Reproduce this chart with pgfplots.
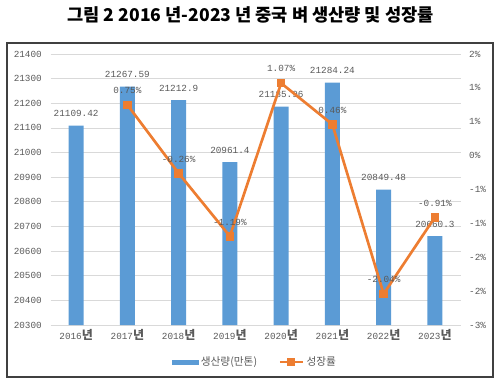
\documentclass[border=0pt]{standalone}
\usepackage{fontspec}
\usepackage{pgfplots}
\pgfplotsset{compat=1.18}
\setmainfont{Liberation Mono}
\newfontfamily\kr{Noto Sans CJK KR}
\definecolor{barblue}{RGB}{91,155,213}
\definecolor{lineorange}{RGB}{237,125,49}
\definecolor{txtgray}{RGB}{89,89,89}
\definecolor{gridgray}{RGB}{217,217,217}
\newcommand{\yr}[1]{#1{\kr\bfseries\fontsize{9}{10}\selectfont 년}}
\begin{document}
\begin{tikzpicture}
\useasboundingbox (0,0) rectangle (373.5pt,289.5pt);
\draw[line width=1.1pt, draw=black!75] (5.25pt,6.75pt) rectangle (369.75pt,257.25pt);
\node[font=\kr\bfseries\fontsize{13.2}{15}\selectfont] at (188pt,278.25pt) {그림 2 2016 년-2023 년 중국 벼 생산량 및 성장률};
\begin{axis}[
  at={(37.875pt,45.75pt)}, anchor=south west,
  scale only axis, width=307.5pt, height=203.25pt,
  xmin=-0.5, xmax=7.5, ymin=20300, ymax=21400,
  ytick={20300,20400,20500,20600,20700,20800,20900,21000,21100,21200,21300,21400},
  scaled y ticks=false,
  xtick={0,...,7},
  xticklabels={\yr{2016},\yr{2017},\yr{2018},\yr{2019},\yr{2020},\yr{2021},\yr{2022},\yr{2023}},
  ybar, bar width=11.25pt,
  axis line style={draw=none}, major tick length=0pt,
  ymajorgrids, grid style={gridgray, line width=0.6pt},
  tick label style={font=\fontsize{7}{8}\selectfont, text=txtgray},
  /pgf/number format/assume math mode=true,
  /pgf/number format/1000 sep={},
  yticklabel style={xshift=-3pt, /pgf/number format/fixed, /pgf/number format/precision=0},
  nodes near coords, point meta=explicit symbolic,
  every node near coord/.style={font=\fontsize{7}{8}\selectfont, text=txtgray, yshift=3pt},
]
\addplot[fill=barblue, draw=none] coordinates {
 (0,21109.42)[21109.42] (1,21267.59)[21267.59] (2,21212.9)[21212.9] (3,20961.4)[20961.4]
 (4,21185.96)[21185.96] (5,21284.24)[21284.24] (6,20849.48)[20849.48] (7,20660.3)[20660.3]};
\end{axis}
\begin{axis}[
  at={(37.875pt,45.75pt)}, anchor=south west,
  scale only axis, width=307.5pt, height=203.25pt,
  xmin=-0.5, xmax=7.5, ymin=-2.5, ymax=1.5,
  axis y line*=right, axis x line=none,
  axis line style={draw=none}, major tick length=0pt,
  ytick={-2.5,-2,-1.5,-1,-0.5,0,0.5,1,1.5},
  yticklabels={-3\%,-2\%,-2\%,-1\%,-1\%,0\%,1\%,1\%,2\%},
  tick label style={font=\fontsize{7}{8}\selectfont, text=txtgray},
  yticklabel style={xshift=3pt},
  legend style={at={(0.5,-0.137)}, anchor=center, draw=none, fill=none,
    legend columns=2, font=\kr\fontsize{8}{9}\selectfont, text=txtgray,
    /tikz/every even column/.append style={column sep=14pt}},
]
\addlegendimage{legend image code/.code={\fill[barblue] (0pt,-1.6pt) rectangle (19pt,1.6pt);}}
\addlegendentry{생산량(만톤)}
\addplot[lineorange, line width=2pt, mark=square*, mark size=2.2pt,
  mark options={solid},
  nodes near coords, point meta=explicit symbolic,
  every node near coord/.style={font=\fontsize{7}{8}\selectfont, text=txtgray, yshift=4pt}]
  coordinates {(1,0.75)[0.75\%] (2,-0.26)[-0.26\%] (3,-1.19)[-1.19\%] (4,1.07)[1.07\%]
   (5,0.46)[0.46\%] (6,-2.04)[-2.04\%] (7,-0.91)[-0.91\%]};
\addlegendentry{성장률}
\end{axis}
\end{tikzpicture}
\end{document}
